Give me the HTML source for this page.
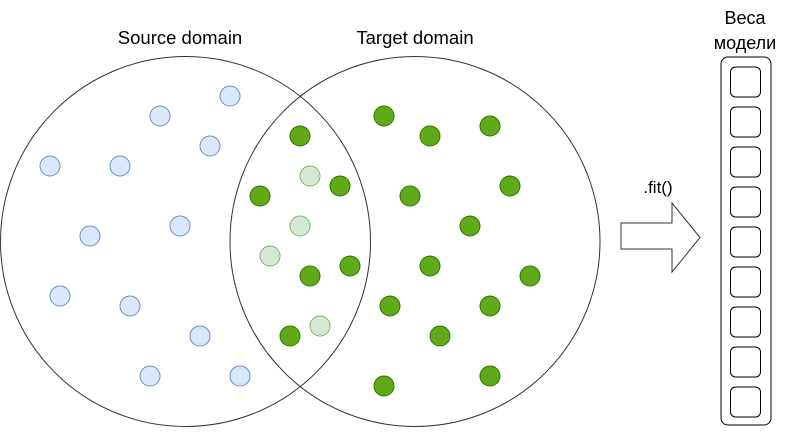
<!DOCTYPE html>
<html><head><meta charset="utf-8"><style>body{margin:0;background:#fff}</style></head><body>
<svg width="801" height="427" xmlns="http://www.w3.org/2000/svg" font-family="Liberation Sans, sans-serif">
<rect width="801" height="427" fill="#fff"/>
<circle cx="185.5" cy="241.5" r="185" fill="none" stroke="#333" stroke-width="1"/>
<circle cx="415" cy="241.5" r="185" fill="none" stroke="#333" stroke-width="1"/>
<text x="180" y="44" font-size="18.5" text-anchor="middle">Source domain</text>
<text x="415" y="44" font-size="18.5" text-anchor="middle">Target domain</text>
<g fill="#dae8fc" stroke="#6c8ebf">
<circle cx="230" cy="96" r="10"/><circle cx="160" cy="116" r="10"/><circle cx="210" cy="146" r="10"/>
<circle cx="50" cy="166" r="10"/><circle cx="120" cy="166" r="10"/><circle cx="180" cy="226" r="10"/>
<circle cx="90" cy="236" r="10"/><circle cx="60" cy="296" r="10"/><circle cx="130" cy="306" r="10"/>
<circle cx="200" cy="336" r="10"/><circle cx="150" cy="376" r="10"/><circle cx="240" cy="376" r="10"/>
</g>
<g fill="#d5e8d4" stroke="#82b366">
<circle cx="310" cy="176" r="10"/><circle cx="300" cy="226" r="10"/><circle cx="270" cy="256" r="10"/><circle cx="320" cy="326" r="10"/>
</g>
<g fill="#60a917" stroke="#2d7600">
<circle cx="300" cy="136" r="10"/><circle cx="260" cy="196" r="10"/><circle cx="340" cy="186" r="10"/>
<circle cx="310" cy="276" r="10"/><circle cx="350" cy="266" r="10"/><circle cx="290" cy="336" r="10"/>
<circle cx="384" cy="116" r="10"/><circle cx="430" cy="136" r="10"/><circle cx="490" cy="126" r="10"/>
<circle cx="410" cy="196" r="10"/><circle cx="510" cy="186" r="10"/><circle cx="470" cy="226" r="10"/>
<circle cx="430" cy="266" r="10"/><circle cx="530" cy="276" r="10"/><circle cx="390" cy="306" r="10"/>
<circle cx="490" cy="306" r="10"/><circle cx="440" cy="336" r="10"/><circle cx="384" cy="386" r="10"/>
<circle cx="490" cy="376" r="10"/>
</g>
<path d="M621,223 H672 V203 L700,237.5 L672,272 V249 H621 Z" fill="#fff" stroke="#333"/>
<text x="658" y="193" font-size="17" text-anchor="middle">.fit()</text>
<text x="745" y="24" font-size="18" text-anchor="middle">Веса</text>
<text x="745" y="49" font-size="18" text-anchor="middle">модели</text>
<rect x="721" y="57" width="50" height="368" rx="7" fill="#fff" stroke="#000"/>
<g fill="#fff" stroke="#000">
<rect x="730.5" y="67" width="30" height="30" rx="5"/><rect x="730.5" y="107" width="30" height="30" rx="5"/>
<rect x="730.5" y="147" width="30" height="30" rx="5"/><rect x="730.5" y="187" width="30" height="30" rx="5"/>
<rect x="730.5" y="227" width="30" height="30" rx="5"/><rect x="730.5" y="267" width="30" height="30" rx="5"/>
<rect x="730.5" y="307" width="30" height="30" rx="5"/><rect x="730.5" y="347" width="30" height="30" rx="5"/>
<rect x="730.5" y="387" width="30" height="30" rx="5"/>
</g>
</svg>
</body></html>
